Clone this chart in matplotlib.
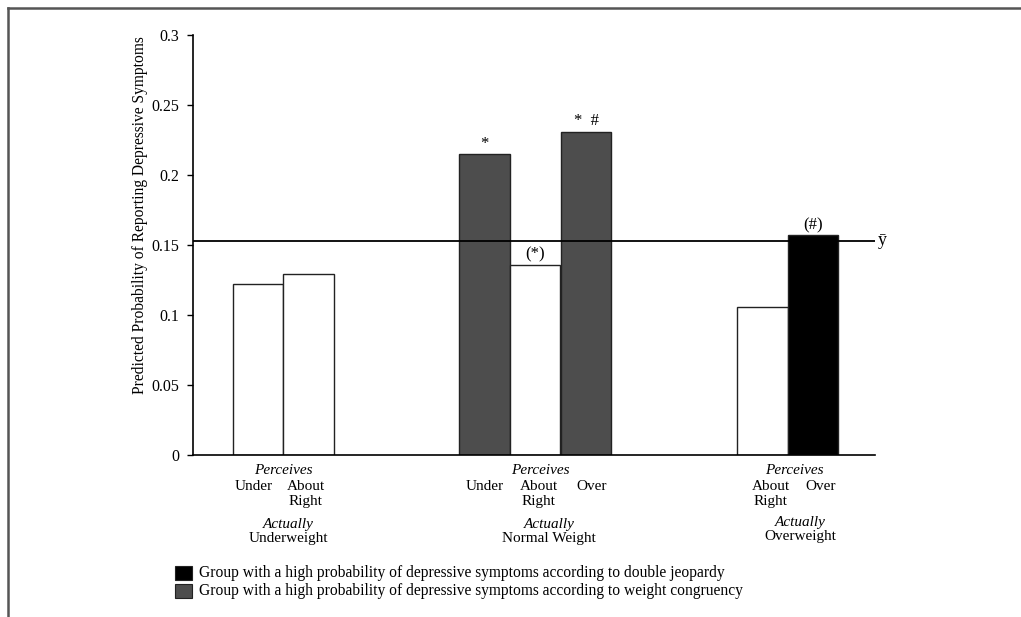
import numpy as np
import matplotlib.pyplot as plt
from matplotlib.lines import Line2D
from matplotlib.patches import Rectangle

plt.rcParams["font.family"] = ["Liberation Serif", "DejaVu Serif"]

# data
perceives = ["Under", "About", "Under", "About", "Over", "About", "Over"]
groups = ["Underweight", "Normal Weight", "Overweight"]
probs = [0.122, 0.129, 0.215, 0.136, 0.231, 0.106, 0.157]
fills = ["white", "white", "#4d4d4d", "white", "#4d4d4d", "white", "black"]
marks = ["", "", "*", "(*)", "*  #", "", "(#)"]
y_mean = 0.153

legend_labels = [
    "Group with a high probability of depressive symptoms according to double jeopardy",
    "Group with a high probability of depressive symptoms according to weight congruency",
]

# layout (x in bar-width units, axis spans 0..13.5)
pos = np.array([1.29, 2.29, 5.77, 6.77, 7.78, 11.27, 12.27])
lab_x = [1.21, 2.23, 5.78, 6.84, 7.89, 11.43, 12.43]
perc_x = [1.79, 6.88, 11.91]
act_x = [1.89, 7.05, 12.02]
act_y = [-0.166, -0.166, -0.160]
grp_y = [-0.200, -0.200, -0.195]

fig = plt.figure(figsize=(10.21, 6.17), dpi=100)
ax = fig.add_axes([0.189, 0.2626, 0.668, 0.6807])

ax.bar(pos, probs, width=1.0, color=fills, edgecolor="#222222", linewidth=1.0, zorder=2)
ax.axhline(y_mean, color="black", linewidth=1.3, zorder=3)
ax.text(13.56, y_mean, "ȳ", ha="left", va="center", fontsize=13)

for x, v, m in zip(pos, probs, marks):
    if m:
        ax.text(x, v + 0.0015, m, ha="center", va="bottom", fontsize=12)

ax.set_xlim(0, 13.5)
ax.set_ylim(0, 0.3)
ax.set_yticks([0, 0.05, 0.1, 0.15, 0.2, 0.25, 0.3])
ax.set_yticklabels(["0", "0.05", "0.1", "0.15", "0.2", "0.25", "0.3"], fontsize=11.5)
ax.set_xticks([])
ax.tick_params(axis="y", length=4, width=1, direction="out", pad=6)
for s in ["top", "right"]:
    ax.spines[s].set_visible(False)
ax.spines["left"].set_linewidth(1.2)
ax.spines["bottom"].set_linewidth(1.2)
ax.set_ylabel("Predicted Probability of Reporting Depressive Symptoms", fontsize=11.2)
ax.yaxis.set_label_coords(-0.066, 0.571)

# category labels below the axis
tr = ax.get_xaxis_transform()
for x, lab in zip(lab_x, perceives):
    ax.text(x, -0.074, lab, transform=tr, ha="center", va="center", fontsize=11)
    if lab == "About":
        ax.text(x, -0.110, "Right", transform=tr, ha="center", va="center", fontsize=11)
for i, g in enumerate(groups):
    ax.text(perc_x[i], -0.036, "Perceives", transform=tr, ha="center", va="center", fontsize=11, style="italic")
    ax.text(act_x[i], act_y[i], "Actually", transform=tr, ha="center", va="center", fontsize=11, style="italic")
    ax.text(act_x[i], grp_y[i], g, transform=tr, ha="center", va="center", fontsize=11)

# legend drawn with figure-level patches
for i, (lab, col) in enumerate(zip(legend_labels, ["black", "#4d4d4d"])):
    ytop = 566 + 18 * i
    fig.patches.append(Rectangle((175 / 1021, 1 - (ytop + 14) / 617), 17 / 1021, 14 / 617,
                                 transform=fig.transFigure, facecolor=col, edgecolor="#222222", lw=0.8))
    fig.text(199 / 1021, 1 - (ytop + 7) / 617, lab, ha="left", va="center", fontsize=11.2)

# outer frame (top and left edges)
fig.add_artist(Line2D([7.5 / 1021, 1], [1 - 7.5 / 617, 1 - 7.5 / 617], transform=fig.transFigure, color="#555555", lw=1.8))
fig.add_artist(Line2D([7.5 / 1021, 7.5 / 1021], [0, 1 - 7.5 / 617], transform=fig.transFigure, color="#555555", lw=1.8))

fig.savefig("out.png", dpi=100)
